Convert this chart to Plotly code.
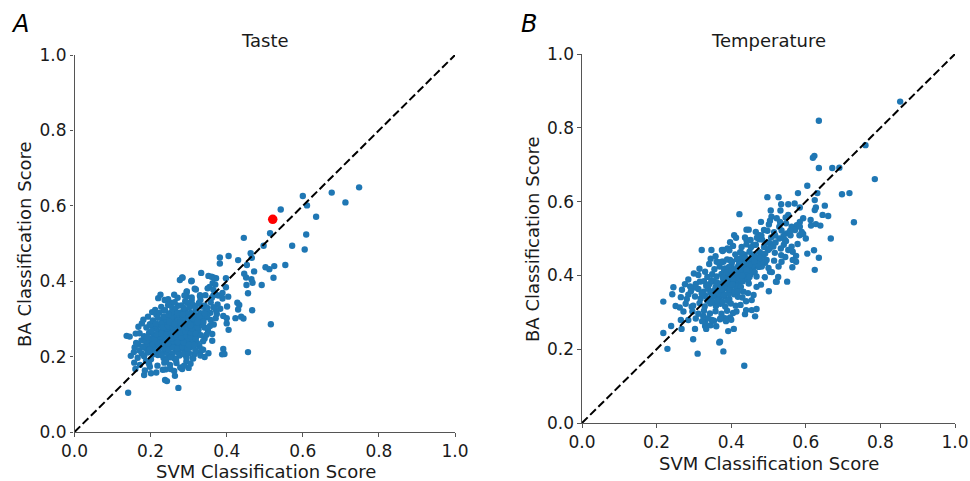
import plotly.graph_objects as go

taste_outer = [(.748,.649),(.676,.635),(.600,.626),(.712,.609),(.542,.590),(.611,.601),(.635,.571),(.609,.524),(.514,.527),(.445,.515),
(.572,.494),(.497,.494),(.605,.484),(.463,.474),(.405,.467),(.382,.463),(.382,.447),(.430,.456),(.466,.462),(.453,.443),(.502,.437),
(.512,.432),(.525,.440),(.554,.443),(.472,.426),(.446,.420),(.451,.410),(.523,.409),(.465,.405),(.468,.396),(.452,.390),(.492,.390),
(.456,.368),(.516,.286),(.456,.212),(.467,.323),(.428,.343),(.433,.337),(.430,.325),(.423,.302),(.438,.306),(.444,.301),(.405,.271),
(.391,.220),(.388,.206),(.394,.207),(.401,.333),(.391,.308),(.400,.302),(.400,.288),(.404,.359),(.389,.369),(.389,.354),(.398,.384),
(.333,.422),(.307,.400),(.283,.410),(.398,.408),(.365,.410),(.372,.408),(.363,.395),(.370,.391),(.316,.380),(.330,.363),(.331,.350),
(.355,.385),(.350,.381),(.365,.377),(.365,.362),(.370,.366),(.295,.373),(.295,.360),(.291,.347),(.308,.349),(.312,.336),(.362,.260),
(.362,.242),(.352,.209),(.330,.212),(.338,.218),(.310,.196),(.300,.170),
(.141,.104),(.273,.117),(.238,.138),(.243,.135),(.264,.149),(.183,.151),(.201,.156),(.160,.167),(.148,.202),(.157,.184),(.137,.255),
(.145,.253),(.161,.261),(.177,.288),(.198,.286),(.206,.286),(.212,.324),(.220,.355),(.226,.364),(.237,.350),(.252,.343),(.262,.364),
(.277,.403),(.284,.409),(.308,.401),(.295,.372),(.319,.378),(.330,.360),(.360,.412),(.352,.414),
(.168,.279),(.181,.298),(.193,.306),(.204,.318),(.215,.312),(.228,.332),(.235,.322),(.246,.352),(.257,.329),(.272,.335),(.263,.318),
(.198,.173),(.188,.188),(.239,.166),(.252,.167),(.278,.171),(.294,.187),(.316,.207),(.328,.228),(.342,.248),(.351,.268),(.366,.285),
(.374,.313),(.383,.327),(.177,.208),(.167,.232),(.156,.212)]

taste_core = [(.185,.163),(.215,.158),(.232,.165),(.262,.162),(.283,.167),(.172,.178),(.196,.181),(.218,.176),(.236,.184),(.251,.178),
(.268,.183),(.288,.176),(.305,.181),(.166,.197),(.183,.201),(.201,.193),(.219,.204),(.234,.196),(.247,.202),(.263,.195),(.276,.203),
(.294,.198),(.312,.195),(.331,.203),(.342,.199),(.158,.224),(.171,.216),(.188,.221),(.197,.228),(.209,.214),(.223,.222),(.238,.216),
(.252,.224),(.266,.215),(.279,.221),(.291,.216),(.304,.224),(.318,.217),(.334,.219),(.162,.236),(.176,.243),(.189,.234),(.203,.241),
(.214,.235),(.227,.244),(.241,.236),(.255,.242),(.268,.235),(.282,.243),(.296,.237),(.309,.242),(.322,.236),(.338,.241),(.171,.262),
(.183,.254),(.196,.263),(.208,.255),(.221,.262),(.234,.254),(.247,.263),(.259,.256),(.273,.261),(.286,.254),(.299,.262),(.313,.255),
(.325,.263),(.347,.258),(.189,.277),(.201,.283),(.214,.274),(.226,.282),(.239,.276),(.252,.284),(.264,.275),(.277,.283),(.289,.275),
(.302,.282),(.316,.276),(.328,.284),(.342,.277),(.356,.281),(.206,.296),(.219,.303),(.231,.295),(.244,.304),(.257,.297),(.269,.303),
(.282,.295),(.294,.304),(.307,.296),(.319,.303),(.333,.296),(.345,.304),(.358,.297),(.371,.302),(.223,.316),(.238,.323),(.251,.315),
(.265,.324),(.279,.317),(.292,.323),(.305,.316),(.318,.324),(.331,.315),(.344,.322),(.357,.316),(.372,.323),(.246,.337),(.263,.344),
(.281,.336),(.296,.343),(.311,.337),(.327,.342),(.342,.336),(.358,.344),(.376,.338),(.271,.356),(.289,.362),(.308,.357),(.344,.363),
(.361,.356),(.378,.362),
(.211,.226),(.229,.231),(.244,.227),(.259,.233),(.274,.229),(.288,.232),(.216,.246),(.232,.251),(.248,.247),(.263,.252),(.278,.248),
(.293,.251),(.307,.247),(.222,.267),(.238,.271),(.253,.268),(.268,.272),(.283,.267),(.297,.271),(.311,.268),(.326,.272),(.243,.287),
(.258,.291),(.273,.288),(.288,.292),(.303,.289),(.317,.292),(.331,.288),(.262,.309),(.276,.311),(.291,.308),(.306,.311),(.321,.309),
(.336,.312),(.349,.309),(.196,.244),(.205,.249),(.193,.211),(.207,.206),(.226,.209),(.242,.211),(.257,.208),(.272,.211),(.286,.207),
(.301,.209),(.237,.243),(.252,.254),(.267,.245),(.281,.258),(.296,.244),(.229,.268),(.244,.275),(.258,.265),(.274,.268),(.289,.284),
(.303,.272),(.318,.286),(.334,.305),(.312,.301),(.298,.313),(.284,.302),(.271,.296),(.255,.305),(.241,.298),(.227,.288),
(.213,.218),(.221,.231),(.236,.223),(.247,.218),(.259,.225),(.271,.222),(.284,.226),(.297,.223),(.206,.233),(.218,.239),(.231,.238),
(.246,.234),(.259,.241),(.272,.238),(.287,.237),(.301,.231),(.315,.231),(.211,.247),(.226,.253),(.239,.249),(.254,.248),(.269,.253),
(.282,.251),(.294,.256),(.306,.254),(.319,.249),(.215,.259),(.228,.261),(.241,.258),(.255,.261),(.266,.258),(.279,.264),(.292,.266),
(.306,.263),(.319,.261),(.332,.257),(.233,.278),(.246,.281),(.259,.279),(.272,.277),(.284,.279),(.297,.278),(.309,.276),(.323,.278),
(.337,.283),(.249,.292),(.263,.286),(.278,.291),(.291,.287),(.305,.283),(.323,.291),(.339,.292),(.256,.318),(.271,.316),(.285,.312),
(.299,.303),(.313,.311),(.328,.307),(.342,.314),(.188,.241),(.179,.226),(.198,.219),(.191,.251),(.203,.268),(.214,.288),(.235,.306),
(.247,.311),(.287,.329),(.302,.331),(.318,.331),(.334,.333),(.349,.329),(.365,.331),(.229,.204),(.253,.198),(.241,.189),(.267,.191)]

taste_highlight = [(.521,.564)]

temp_outer = [(.853,.871),(.635,.819),(.760,.753),(.623,.724),(.619,.719),(.635,.691),(.671,.691),(.690,.692),(.785,.661),(.604,.643),
(.579,.623),(.631,.623),(.717,.623),(.697,.620),(.497,.612),(.527,.612),(.624,.604),(.534,.593),(.553,.593),(.570,.595),(.651,.589),
(.584,.584),(.627,.584),(.624,.577),(.506,.576),(.532,.576),(.422,.566),(.645,.564),(.660,.561),(.553,.564),(.546,.557),(.508,.559),
(.504,.548),(.501,.538),(.522,.555),(.531,.545),(.529,.532),(.480,.545),(.441,.524),(.447,.524),(.729,.544),(.613,.550),(.614,.535),
(.627,.539),(.639,.535),(.593,.555),(.584,.545),(.576,.536),(.562,.532),(.571,.523),(.584,.532),(.589,.518),(.583,.509),(.593,.512),
(.600,.500),(.667,.500),(.549,.514),(.540,.507),(.529,.500),(.544,.496),(.408,.509),(.413,.502),(.397,.490),(.390,.473),(.377,.466),
(.475,.509),(.475,.498),(.441,.496),(.459,.482),(.504,.487),(.513,.478),(.499,.469),(.578,.485),(.562,.478),(.565,.464),(.574,.453),
(.565,.442),(.574,.437),(.604,.459),(.622,.468),(.635,.448),(.624,.415),(.564,.422),(.527,.424),(.509,.409),(.526,.396),(.520,.383),
(.550,.383),(.517,.461),(.534,.455),(.486,.455),(.495,.442),(.491,.434),(.482,.424),(.468,.442),(.459,.424),(.428,.460),(.424,.446),
(.432,.433),(.419,.424),(.437,.419),(.379,.469),(.375,.437),(.397,.442),(.401,.428),(.383,.419),
(.435,.155),(.310,.188),(.379,.194),(.370,.220),(.368,.218),(.229,.201),(.298,.227),(.218,.244),(.267,.255),(.239,.263),(.392,.249),
(.407,.255),(.303,.255),(.330,.263),(.333,.255),(.464,.289),(.455,.306),(.437,.295),(.468,.309),(.440,.306),(.414,.302),(.397,.286),
(.383,.284),(.370,.281),(.348,.279),(.330,.274),(.285,.279),(.265,.279),(.272,.302),(.251,.317),(.218,.329),(.294,.315),(.265,.341),
(.245,.368),(.242,.349),(.276,.376),(.285,.389),(.312,.401),(.303,.367),(.316,.383),(.455,.333),(.501,.357),(.468,.369),(.522,.383),
(.504,.410),(.321,.469),(.347,.469),(.375,.469),(.341,.431),(.361,.437),(.379,.437),
(.262,.313),(.278,.323),(.285,.348),(.268,.361),(.300,.405),(.290,.370),(.315,.418),(.330,.410),(.345,.445),(.358,.452),(.395,.468),
(.405,.480),(.430,.340),(.445,.352),(.460,.347),(.480,.375),(.490,.395),(.500,.420),(.515,.440),(.535,.437),(.545,.450),(.325,.290),
(.345,.265),(.360,.262),(.400,.280),(.425,.320),(.440,.330)]

temp_core = [(.305,.283),(.322,.276),(.338,.284),(.354,.277),(.371,.283),(.386,.276),(.296,.302),(.312,.296),(.327,.304),(.343,.297),
(.358,.303),(.374,.296),(.389,.304),(.405,.298),(.298,.318),(.315,.325),(.329,.316),(.344,.324),(.359,.317),(.371,.323),(.384,.316),
(.399,.324),(.412,.318),(.281,.336),(.303,.343),(.318,.337),(.331,.344),(.345,.336),(.357,.343),(.369,.337),(.382,.344),(.395,.336),
(.418,.342),(.292,.357),(.312,.363),(.326,.356),(.338,.364),(.351,.357),(.363,.363),(.376,.356),(.389,.364),(.402,.357),(.416,.363),
(.433,.356),(.305,.377),(.327,.384),(.341,.376),(.354,.383),(.367,.377),(.379,.384),(.392,.376),(.405,.383),(.418,.377),(.431,.384),
(.447,.378),(.336,.396),(.349,.403),(.361,.397),(.374,.404),(.386,.396),(.399,.403),(.411,.397),(.424,.404),(.437,.396),(.452,.403),
(.468,.397),(.355,.417),(.369,.424),(.381,.416),(.394,.423),(.407,.417),(.419,.424),(.432,.416),(.445,.423),(.458,.417),(.474,.423),
(.372,.436),(.389,.443),(.402,.437),(.415,.444),(.428,.436),(.441,.443),(.454,.437),(.467,.444),(.482,.437),(.411,.457),(.424,.463),
(.436,.456),(.449,.464),(.462,.457),(.477,.463),(.428,.477),(.441,.484),(.453,.476),(.466,.483),(.488,.477),(.437,.503),(.452,.496),
(.469,.502),(.483,.497),(.507,.503),(.466,.518),(.488,.523),(.515,.517),(.535,.522),
(.336,.331),(.349,.329),(.363,.332),(.377,.329),(.391,.331),(.352,.349),(.366,.351),(.381,.348),(.394,.351),(.408,.349),(.371,.369),
(.385,.371),(.398,.368),(.412,.371),(.426,.369),(.392,.389),(.405,.391),(.419,.388),(.432,.391),(.445,.389),(.411,.409),(.425,.411),
(.438,.408),(.451,.411),(.432,.429),(.445,.431),(.458,.428),(.471,.431),(.455,.451),(.468,.449),(.482,.452),(.497,.489),(.481,.508),
(.518,.508),(.547,.541),(.559,.509),(.541,.483),(.553,.469),
(.321,.351),(.333,.372),(.344,.353),(.347,.387),(.358,.368),(.362,.381),(.373,.362),(.378,.393),(.386,.381),(.397,.362),(.403,.375),
(.409,.356),(.422,.393),(.418,.356),(.388,.409),(.401,.413),(.415,.407),(.429,.399),(.441,.415),(.449,.396),(.463,.409),(.421,.431),
(.437,.447),(.449,.429),(.462,.438),(.478,.447),(.491,.459),(.503,.473),(.519,.489),(.533,.473),(.547,.493),(.558,.521),(.497,.521)]

AXIS_LEFT = dict(x=[74.5 / 970, 455 / 970], y=[(481 - 432) / 481, (481 - 55) / 481])
AXIS_RIGHT = dict(x=[582 / 970, 955 / 970], y=[(481 - 423) / 481, (481 - 54) / 481])
tick_vals = [0, .2, .4, .6, .8, 1]
tick_text = ["0.0", "0.2", "0.4", "0.6", "0.8", "1.0"]
BLUE = "#1f77b4"
FONT = "DejaVu Sans"
INK = "#1a1a1a"


def split(pts):
    return [p[0] for p in pts], [p[1] for p in pts]


fig = go.Figure()
for pts, xa, ya in [(taste_outer + taste_core, "x", "y"), (temp_outer + temp_core, "x2", "y2")]:
    xs, ys = split(pts)
    fig.add_trace(go.Scatter(x=xs, y=ys, mode="markers", xaxis=xa, yaxis=ya,
                             marker=dict(color=BLUE, size=6.4, line=dict(width=0)), cliponaxis=False))
    fig.add_trace(go.Scatter(x=[0, 1], y=[0, 1], mode="lines", xaxis=xa, yaxis=ya,
                             line=dict(color="black", width=2, dash="8px,3.5px")))
xs, ys = split(taste_highlight)
fig.add_trace(go.Scatter(x=xs, y=ys, mode="markers", marker=dict(color="#ff0000", size=9.5, line=dict(width=0))))

common = dict(range=[0, 1], tickmode="array", tickvals=tick_vals, ticktext=tick_text, showgrid=False, zeroline=False,
              showline=True, linecolor="#555555", linewidth=1.2, ticks="outside", ticklen=3.5, tickwidth=1,
              tickcolor="#555555", tickfont=dict(family=FONT, size=17, color=INK), automargin=False)
fig.update_layout(
    width=970, height=481, margin=dict(l=0, r=0, t=0, b=0), showlegend=False,
    paper_bgcolor="white", plot_bgcolor="white",
    xaxis=dict(domain=AXIS_LEFT["x"], anchor="y", **common),
    yaxis=dict(domain=AXIS_LEFT["y"], anchor="x", **common),
    xaxis2=dict(domain=AXIS_RIGHT["x"], anchor="y2", **common),
    yaxis2=dict(domain=AXIS_RIGHT["y"], anchor="x2", **common),
)


def label(text, x, y, size=18, color=INK, angle=0):
    fig.add_annotation(text=text, x=x / 970, y=(481 - y) / 481, xref="paper", yref="paper", showarrow=False,
                       xanchor="center", yanchor="middle", textangle=angle, borderpad=0,
                       font=dict(family=FONT, size=size, color=color))


label("Taste", 264.5, 41)
label("Temperature", 768, 41)
label("<i>A</i>", 20, 24, size=24, color="black")
label("<i>B</i>", 529, 24, size=24, color="black")
label("SVM Classification Score", 265.5, 471)
label("SVM Classification Score", 769, 463)
label("BA Classification Score", 24, 244, angle=-90)
label("BA Classification Score", 532, 239, angle=-90)
fig.write_html("out.html", config=dict(displayModeBar=False),
               post_script="document.body.style.margin='0';document.documentElement.style.overflow='hidden';")
